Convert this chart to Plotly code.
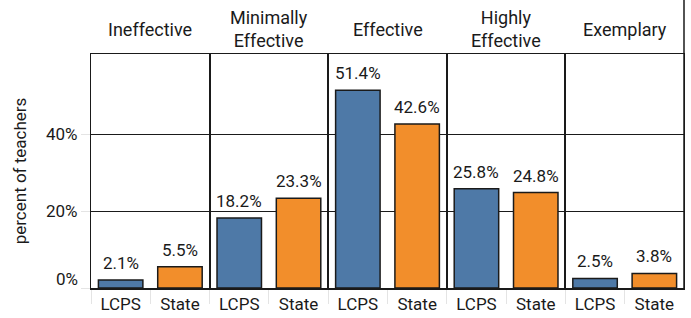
import plotly.graph_objects as go
from plotly.subplots import make_subplots

ratings = ["Ineffective", "Minimally<br>Effective", "Effective", "Highly<br>Effective", "Exemplary"]
groups = ["LCPS", "State"]
lcps = [2.1, 18.2, 51.4, 25.8, 2.5]
state = [5.5, 23.3, 42.6, 24.8, 3.8]
colors = {"LCPS": "#4E79A7", "State": "#F28E2B"}
y_ticks = [0, 20, 40]
y_tick_labels = ["0%", "20%", "40%"]

W, H = 691, 318
L, R, T, B = 91, 7, 54, 30
FONT = "Roboto"
INK = "#1a1a1a"

fig = make_subplots(rows=1, cols=5, shared_yaxes=True, horizontal_spacing=0)
for i in range(5):
    vals = [lcps[i], state[i]]
    xr = "x" if i == 0 else f"x{i + 1}"
    yr = "y" if i == 0 else f"y{i + 1}"
    fig.add_trace(go.Bar(
        x=groups, y=vals,
        marker=dict(color=[colors[g] for g in groups], line=dict(color=INK, width=1.5)),
        width=0.75, showlegend=False, hoverinfo="skip",
    ), row=1, col=i + 1)
    for g, v in zip(groups, vals):
        fig.add_annotation(x=g, y=v, xref=xr, yref=yr, text=f"{v:.1f}%", showarrow=False,
                           yanchor="bottom", yshift=5,
                           font=dict(size=17, color=INK, family=FONT))
    fig.add_annotation(x=0.5, xref=f"{xr} domain", y=1, yref="paper",
                       text=ratings[i], showarrow=False, yanchor="middle", yshift=25,
                       font=dict(size=18, color=INK, family=FONT))

# y tick labels: the bottom one sits just above the axis line, as in the reference
for tv, tl in zip(y_ticks, y_tick_labels):
    fig.add_annotation(x=0, xref="x domain", y=tv, yref="y", text=tl, showarrow=False,
                       xanchor="right", xshift=-11, yanchor="middle",
                       yshift=9 if tv == 0 else 0,
                       font=dict(size=17, color=INK, family=FONT))

fig.update_xaxes(showline=True, mirror=True, linecolor=INK, linewidth=1.5,
                 ticks="outside", tickson="boundaries", ticklen=14, tickcolor="#e4e4e4",
                 tickfont=dict(size=17, color=INK, family=FONT), showgrid=False,
                 automargin=False, fixedrange=True)
fig.update_yaxes(range=[0, 60.8], tickvals=y_ticks, ticktext=["" for _ in y_ticks],
                 showgrid=True, gridcolor=INK, gridwidth=1,
                 showline=True, mirror=True, linecolor=INK, linewidth=1,
                 ticks="", zeroline=False, automargin=False, fixedrange=True)
fig.update_yaxes(ticks="outside", ticklen=9, tickcolor="#e4e4e4",
                 tickfont=dict(size=17, color=INK, family=FONT),
                 title=dict(text="percent of teachers", font=dict(size=17, color=INK, family=FONT),
                            standoff=46), row=1, col=1)

# right border extending through header area
fig.add_shape(type="line", xref="paper", yref="paper", x0=1, x1=1, y0=0, y1=1 + T / (H - T - B),
              line=dict(color=INK, width=1.5))

fig.update_layout(width=W, height=H, margin=dict(l=L, r=R, t=T, b=B),
                  plot_bgcolor="white", paper_bgcolor="white", bargap=0.25,
                  font=dict(family=FONT))
fig.write_html("out.html", config={"displayModeBar": False, "staticPlot": True},
               post_script="document.body.style.margin='0';document.body.style.overflow='hidden';")
